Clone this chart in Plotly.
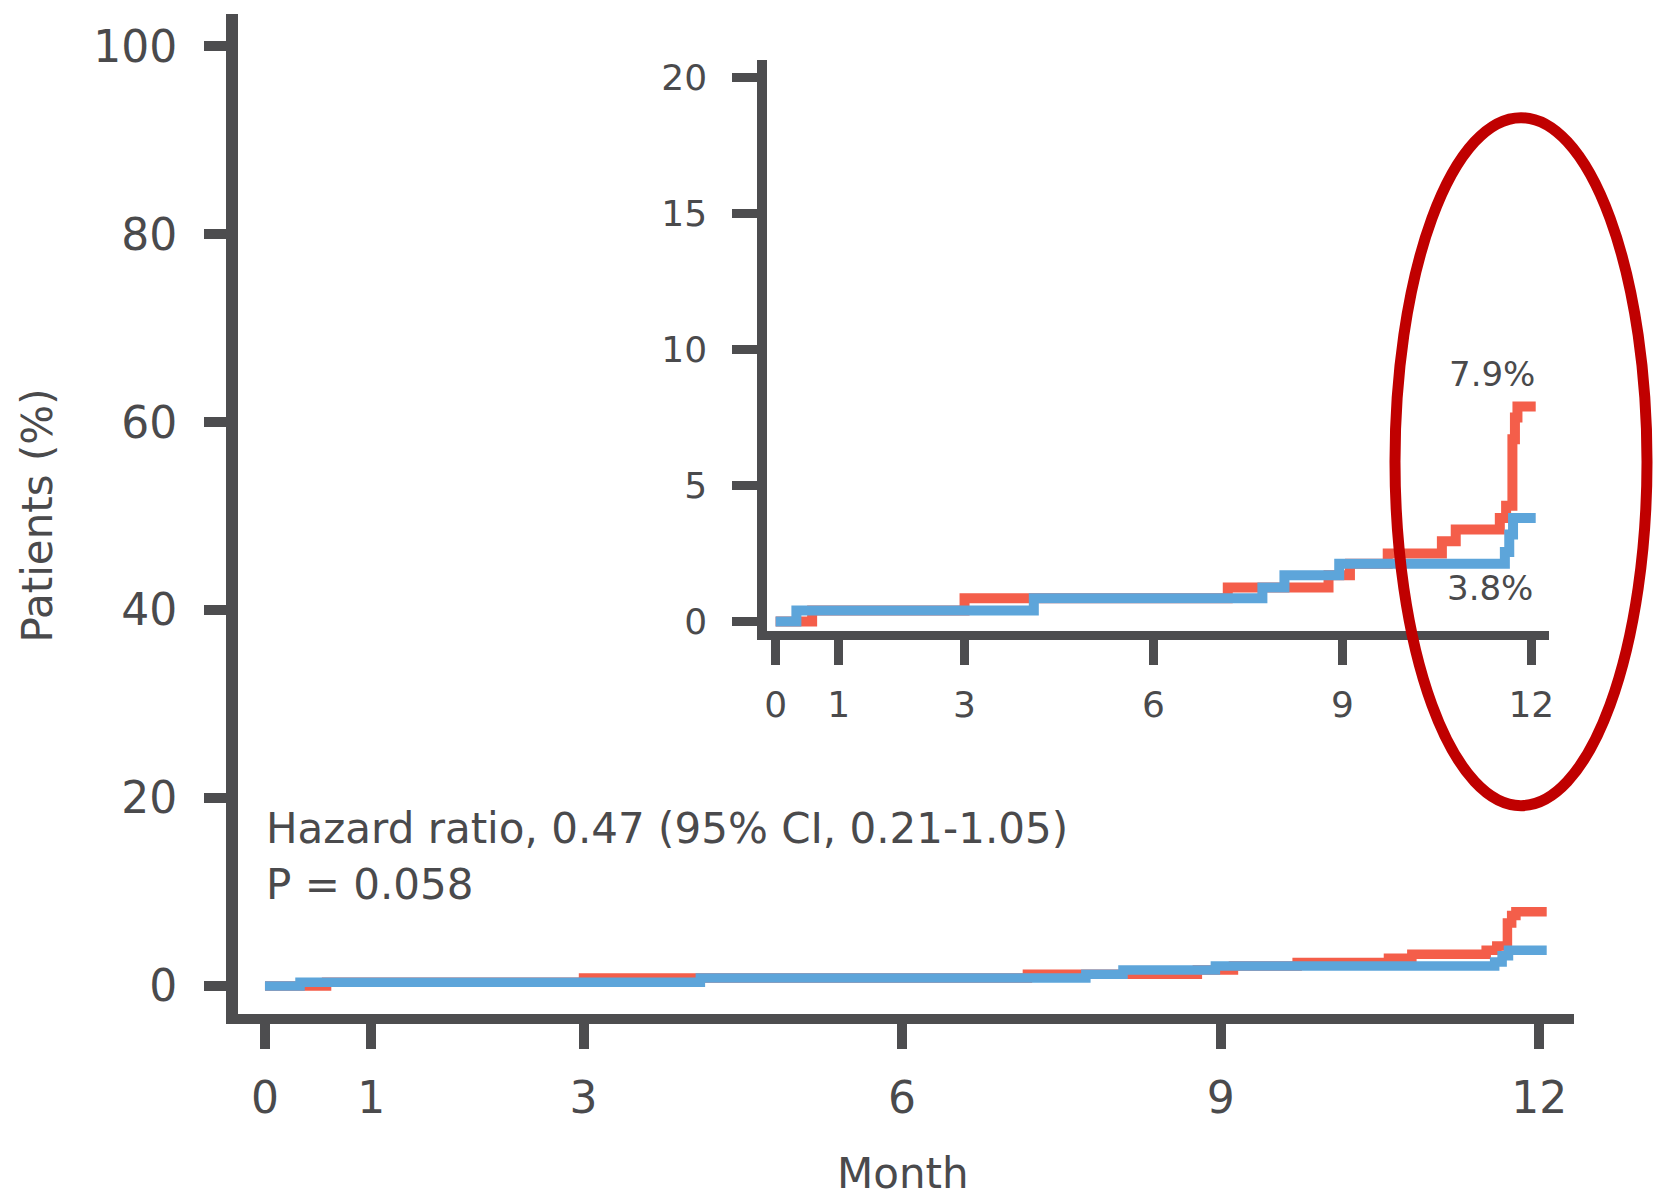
import plotly.graph_objects as go

# ---- data (months, cumulative incidence %) ----
months_red = [0, 0.58, 3.0, 7.18, 8.78, 9.12, 9.72, 10.58, 10.80, 11.50, 11.60, 11.70, 11.74, 11.78, 12.07]
pct_red = [0, 0.4, 0.85, 1.25, 1.7, 2.12, 2.5, 2.95, 3.38, 3.8, 4.25, 6.7, 7.5, 7.9, 7.9]

months_blue = [0, 0.33, 4.10, 7.73, 8.08, 8.95, 11.58, 11.65, 11.71, 12.07]
pct_blue = [0, 0.4, 0.85, 1.25, 1.7, 2.12, 2.55, 3.2, 3.8, 3.8]

x_ticks = [0, 1, 3, 6, 9, 12]
y_ticks_main = [0, 20, 40, 60, 80, 100]
y_ticks_inset = [0, 5, 10, 15, 20]

hazard_line1 = "Hazard ratio, 0.47 (95% CI, 0.21-1.05)"
hazard_line2 = "P = 0.058"
label_red = "7.9%"
label_blue = "3.8%"

RED = "#F45E4A"
BLUE = "#5DA5DA"
AX = "#4D4D4F"
TXT = "#4A4A4C"
ELL = "#C00000"
FONT = "DejaVu Sans"

# page body has an 8px margin: the figure starts at (8, 8) of the window
OFF = 8
W, H = 1661 - OFF, 1198 - OFF
ML, MR, MT, MB = 238 - OFF, 87, 11 - OFF, 184
PW = W - ML - MR
PH = H - MT - MB


def px(x):
    """window pixel x -> paper coordinate"""
    return (x - OFF - ML) / PW


def py(y):
    """window pixel y -> paper coordinate"""
    return (H - MB - (y - OFF)) / PH


fig = go.Figure()

for xa, ya, lw in (("x", "y", 9.5), ("x2", "y2", 10)):
    fig.add_trace(go.Scatter(x=months_red, y=pct_red, mode="lines", line_shape="hv",
                             line=dict(color=RED, width=lw), xaxis=xa, yaxis=ya,
                             showlegend=False, hoverinfo="skip"))
    fig.add_trace(go.Scatter(x=months_blue, y=pct_blue, mode="lines", line_shape="hv",
                             line=dict(color=BLUE, width=lw), xaxis=xa, yaxis=ya,
                             showlegend=False, hoverinfo="skip"))

common = dict(showgrid=False, zeroline=False, showline=True, linecolor=AX,
              ticks="outside", tickcolor=AX)

fig.update_layout(
    width=W, height=H,
    margin=dict(l=ML, r=MR, t=MT, b=MB, pad=0),
    paper_bgcolor="white", plot_bgcolor="white",
    font=dict(family=FONT, color=TXT),
    xaxis=dict(**common, range=[-0.254, 12.327], tickvals=x_ticks, linewidth=10,
               ticklen=25, tickwidth=10, tickfont=dict(size=44, color=TXT),
               ticklabelstandoff=11),
    yaxis=dict(**common, range=[-2.99, 103.43], tickvals=y_ticks_main, linewidth=12,
               ticklen=22, tickwidth=10, tickfont=dict(size=44, color=TXT),
               ticklabelstandoff=18),
    xaxis2=dict(**common, domain=[px(767.3), px(1549)], anchor="y2",
                range=[-0.132, 12.281], tickvals=x_ticks, linewidth=9,
                ticklen=25, tickwidth=9, tickfont=dict(size=36, color=TXT),
                ticklabelstandoff=9),
    yaxis2=dict(**common, domain=[py(630), py(56.7)], anchor="x2",
                range=[-0.355, 20.652], tickvals=y_ticks_inset, linewidth=10,
                ticklen=25, tickwidth=9, tickfont=dict(size=36, color=TXT),
                ticklabelstandoff=18),
)

ann = [
    dict(text="Patients (%)", x=px(37), y=py(514), textangle=-90,
         font=dict(size=42, color=TXT), xanchor="center", yanchor="middle"),
    dict(text="Month", x=px(903), y=py(1174),
         font=dict(size=42, color=TXT), xanchor="center", yanchor="middle"),
    dict(text=hazard_line1, x=px(264), y=py(828),
         font=dict(size=42, color=TXT), xanchor="left", yanchor="middle"),
    dict(text=hazard_line2, x=px(264), y=py(884.5),
         font=dict(size=42, color=TXT), xanchor="left", yanchor="middle"),
    dict(text=label_red, x=px(1492), y=py(372),
         font=dict(size=34, color=TXT), xanchor="center", yanchor="middle"),
    dict(text=label_blue, x=px(1490), y=py(587),
         font=dict(size=34, color=TXT), xanchor="center", yanchor="middle"),
]
for a in ann:
    a.update(xref="paper", yref="paper", showarrow=False)
fig.update_layout(annotations=ann)

fig.add_shape(type="circle", xref="paper", yref="paper",
              x0=px(1395), x1=px(1647), y0=py(805), y1=py(115),
              line=dict(color=ELL, width=11), layer="above")

fig.write_html("out.html")
